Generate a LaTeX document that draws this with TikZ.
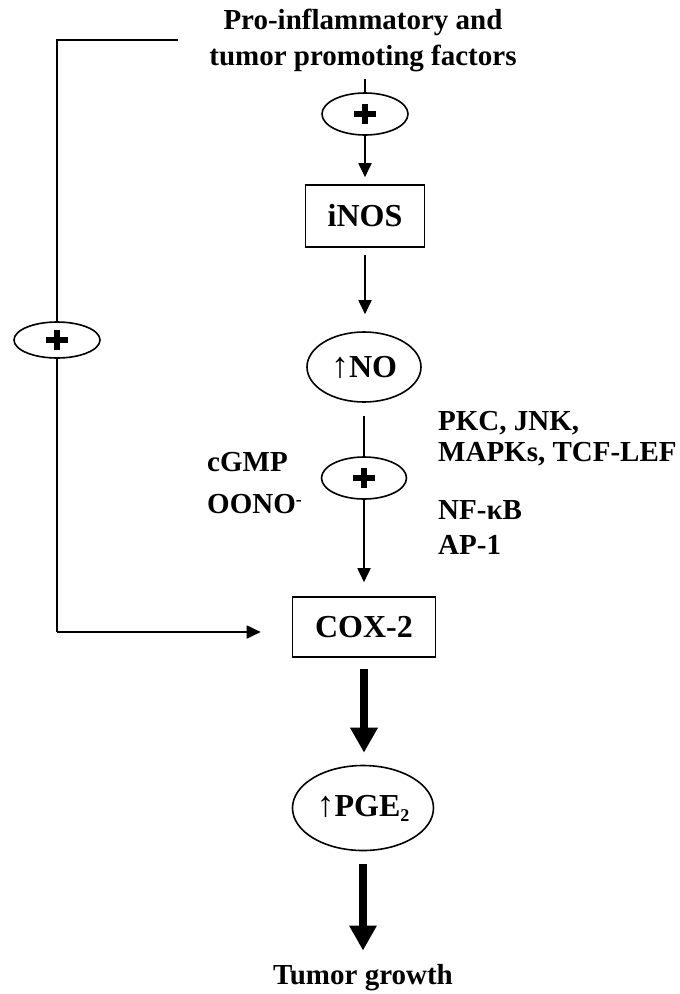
\documentclass[tikz,border=0pt]{standalone}
\usepackage{fontspec}
\setmainfont{Liberation Serif}
\usetikzlibrary{shapes.geometric,arrows.meta}
\newcommand\uparr{{\mdseries\fontsize{36}{36}\selectfont\symbol{"2191}}}
\begin{document}
\begin{tikzpicture}[x=1pt,y=-1pt,
  txt/.style={font=\fontsize{29}{36}\selectfont\bfseries, inner sep=0pt},
  boxlbl/.style={draw, line width=1.6pt, font=\fontsize{32}{36}\selectfont\bfseries, inner sep=0pt},
  plusnode/.style={draw, ellipse, line width=1.6pt, inner sep=0pt,
    path picture={
      \fill ([xshift=-11pt,yshift=-2.6pt]path picture bounding box.center) rectangle ([xshift=11pt,yshift=2.6pt]path picture bounding box.center);
      \fill ([xshift=-2.6pt,yshift=-10pt]path picture bounding box.center) rectangle ([xshift=2.6pt,yshift=10pt]path picture bounding box.center);
    }},
  thin/.style={line width=1.8pt},
  thinarrow/.style={line width=1.8pt, -{Triangle[width=13pt,length=14pt]}},
  thickarrow/.style={line width=7.3pt, -{Triangle[width=26pt,length=25pt]}},
]
\useasboundingbox (0,0) rectangle (680,994);
\fill[white] (0,0) rectangle (680,994);

% nodes
\node[txt, align=center] (title) at (363,40) {Pro-inflammatory and\\tumor promoting factors};
\node[plusnode, minimum width=86pt, minimum height=42pt] (p1) at (365,114) {};
\node[boxlbl, minimum width=119pt, minimum height=62pt] (inos) at (365,216) {iNOS};
\node[boxlbl, ellipse, minimum width=114pt, minimum height=70pt] (no) at (364,367) {\uparr NO};
\node[plusnode, minimum width=85pt, minimum height=42pt] (p2) at (364,478) {};
\node[boxlbl, minimum width=143pt, minimum height=60pt] (cox) at (364,627) {COX-2};
\node[boxlbl, ellipse, minimum width=141pt, minimum height=85pt] (pge) at (363,808) {\uparr PGE\raisebox{-0.35ex}{\fontsize{18}{18}\selectfont 2}};
\node[txt] (tumor) at (363,978) {Tumor growth};
\node[plusnode, minimum width=86pt, minimum height=36pt] (pL) at (57,340) {};

\node[txt, anchor=west] (cgmp) at (207,462) {cGMP};
\node[txt, anchor=west] (oono) at (207,504) {OONO\raisebox{0.6ex}{\fontsize{18}{18}\selectfont -}};
\node[txt, anchor=west] (pkc) at (438,423) {PKC, JNK,};
\node[txt, anchor=west] (mapk) at (438,454) {MAPKs, TCF-LEF};
\node[txt, anchor=west] (nfkb) at (438,510) {NF-κB};
\node[txt, anchor=west] (ap1) at (438,545) {AP-1};

\coordinate (startL) at (178,40);
\coordinate (cornerTL) at (57,40);
\coordinate (cornerBL) at (57,632);
\coordinate (t1) at (365,79);

% connectors
\draw[thin] (t1) -- (p1.north);
\draw[thinarrow, shorten >=7pt] (p1.south) -- (inos.north);
\draw[thinarrow, shorten <=7pt, shorten >=17pt] (inos.south) -- (inos.south |- no.north);
\draw[thin, shorten <=13pt] (no.south) -- (p2.north);
\draw[thinarrow, shorten >=14pt] (p2.south) -- (cox.north);
\draw[thickarrow, shorten <=11pt, shorten >=12pt] (cox.south) -- (cox.south |- pge.north);
\draw[thickarrow, shorten <=13pt, shorten >=14pt] (pge.south) -- (tumor.north);

\draw[thin] (startL) -- (cornerTL) -- (pL.north);
\draw[thin] (pL.south) -- (cornerBL);
\draw[thinarrow, shorten >=31pt] (cornerBL) -- (cornerBL -| cox.west);
\end{tikzpicture}
\end{document}
